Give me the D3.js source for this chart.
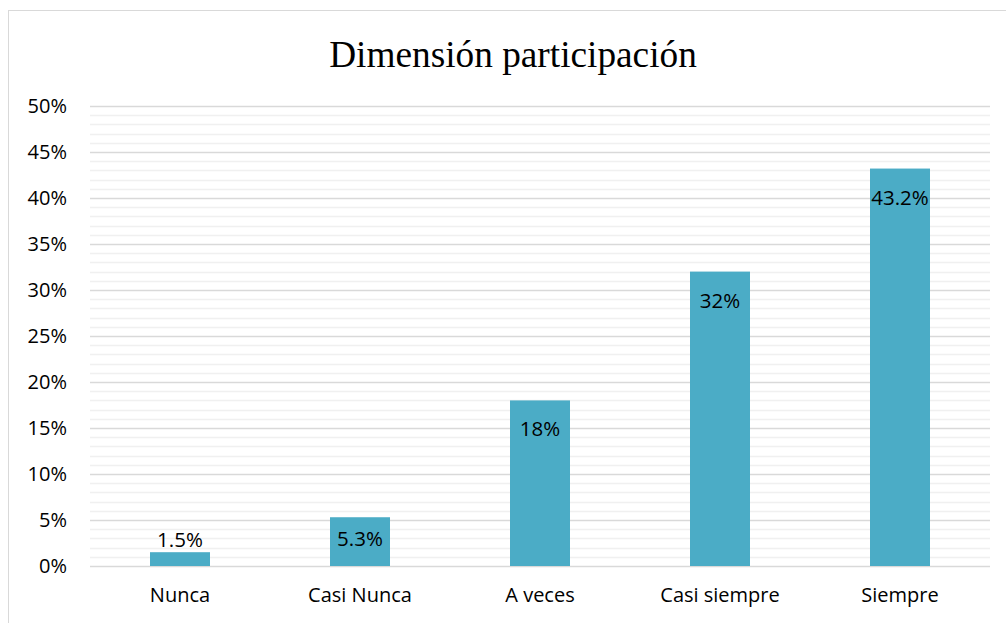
<!DOCTYPE html>
<html>
<head>
    <meta charset="utf-8">
    <title>Dimensión participación</title>
    <script src="https://d3js.org/d3.v7.min.js"></script>
    <style>
        body { margin: 0; background: #fff; }
        .tick text { font-family: "Open Sans", "Noto Sans", sans-serif; font-size: 20px; fill: #000; }
    </style>
</head>
<body>
<div id="chart"></div>
<script>
    // chart data
    const categories = ["Nunca", "Casi Nunca", "A veces", "Casi siempre", "Siempre"];
    const values = [1.5, 5.3, 18, 32, 43.2];
    const valueLabels = ["1.5%", "5.3%", "18%", "32%", "43.2%"];
    const yTicks = [0, 5, 10, 15, 20, 25, 30, 35, 40, 45, 50];

    const W = 1006, H = 623;
    const margin = { top: 106, right: 16, bottom: 57, left: 90 };
    const width = W - margin.left - margin.right;
    const height = H - margin.top - margin.bottom;

    const svg = d3.select("#chart").append("svg")
        .attr("width", W)
        .attr("height", H);

    // outer border
    svg.append("rect")
        .attr("x", 8.5).attr("y", 10.5)
        .attr("width", W - 8).attr("height", H)
        .attr("fill", "none")
        .attr("stroke", "#d9d9d9");

    svg.append("text")
        .attr("x", 513).attr("y", 67)
        .attr("text-anchor", "middle")
        .attr("font-family", "'Liberation Serif', 'DejaVu Serif', serif")
        .attr("font-size", 37.3)
        .text("Dimensión participación");

    const g = svg.append("g")
        .attr("transform", "translate(" + margin.left + "," + margin.top + ")");

    const x = d3.scaleBand()
        .domain(categories)
        .range([0, width]);

    const y = d3.scaleLinear()
        .domain([0, 50])
        .range([height, 0]);

    // minor gridlines every 1%
    g.selectAll(".minor")
        .data(d3.range(0, 51).filter(v => v % 5 !== 0))
        .enter().append("line")
        .attr("x1", 0).attr("x2", width)
        .attr("y1", d => Math.round(y(d)) + 0.5)
        .attr("y2", d => Math.round(y(d)) + 0.5)
        .attr("stroke", "#f0f0f0")
        .attr("stroke-width", 1.5);

    // major gridlines
    g.selectAll(".major")
        .data(yTicks)
        .enter().append("line")
        .attr("x1", 0).attr("x2", width)
        .attr("y1", d => Math.round(y(d)) + 0.5)
        .attr("y2", d => Math.round(y(d)) + 0.5)
        .attr("stroke", "#d9d9d9")
        .attr("stroke-width", 1.5);

    // y axis labels
    const yAxis = g.append("g")
        .attr("transform", "translate(-23,0)")
        .call(d3.axisLeft(y).tickValues(yTicks).tickFormat(d => d + "%").tickSize(0).tickPadding(0));
    yAxis.select(".domain").remove();

    // x axis labels
    const xAxis = g.append("g")
        .attr("transform", "translate(0," + height + ")")
        .call(d3.axisBottom(x).tickSize(0).tickPadding(22));
    xAxis.select(".domain").remove();

    // bars
    const barW = x.bandwidth() / 3;
    g.selectAll(".bar")
        .data(values)
        .enter().append("rect")
        .attr("class", "bar")
        .attr("x", (d, i) => x(categories[i]) + (x.bandwidth() - barW) / 2)
        .attr("y", d => y(d))
        .attr("width", barW)
        .attr("height", d => height - y(d))
        .attr("fill", "#4bacc6");

    // data labels
    g.selectAll(".label")
        .data(values)
        .enter().append("text")
        .attr("class", "label")
        .attr("x", (d, i) => x(categories[i]) + x.bandwidth() / 2)
        .attr("y", d => {
            if (height - y(d) < 20) return y(d) - 5;
            return Math.min(y(d) + 36, height - 20);
        })
        .attr("text-anchor", "middle")
        .attr("font-family", "'Open Sans', 'Noto Sans', sans-serif")
        .attr("font-size", 20.5)
        .attr("fill", "#000")
        .text((d, i) => valueLabels[i]);
</script>
</body>
</html>
